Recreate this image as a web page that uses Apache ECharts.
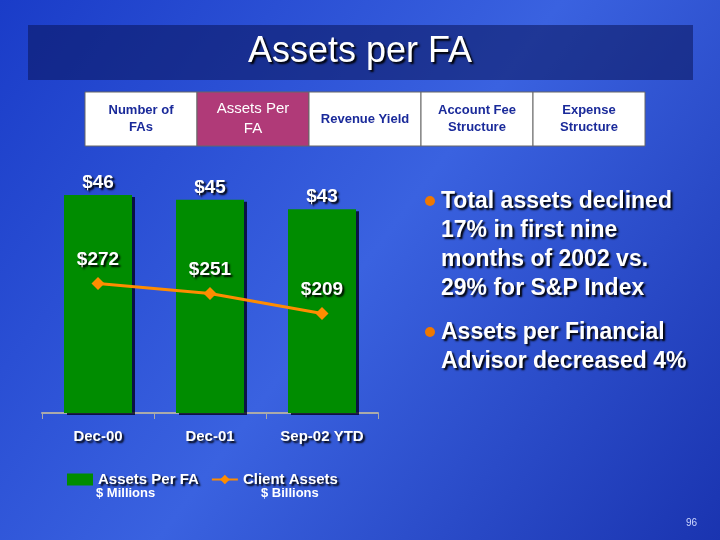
<!DOCTYPE html>
<html><head><meta charset="utf-8">
<script src="https://cdn.jsdelivr.net/npm/echarts@6/dist/echarts.min.js"></script>
<style>html,body{margin:0;padding:0;}#main{width:720px;height:540px;}</style>
</head><body><div id="main"></div>
<script>
var categories = ['Dec-00', 'Dec-01', 'Sep-02 YTD'];
var assetsPerFA = [46, 45, 43];
var clientAssets = [272, 251, 209];
var tabs = ['Number of\nFAs', 'Assets Per\nFA', 'Revenue Yield', 'Account Fee\nStructure', 'Expense\nStructure'];
var bullets = ['Total assets declined\n17% in first nine\nmonths of 2002 vs.\n29% for S&P Index', 'Assets per Financial\nAdvisor decreased 4%'];

var FF = 'Liberation Sans';
var chart = echarts.init(document.getElementById('main'));
var shadow = { textShadowColor: '#000', textShadowBlur: 2, textShadowOffsetX: 2, textShadowOffsetY: 2 };
var graphics = [
  { type: 'rect', shape: { x: 28, y: 25, width: 665, height: 55 }, style: { fill: 'rgba(10,20,90,0.55)' } },
  { type: 'text', x: 360, y: 52, style: Object.assign({ text: 'Assets per FA', fill: '#fff', font: '36px ' + FF, textAlign: 'center', textVerticalAlign: 'middle' }, shadow) }
];
tabs.forEach(function (t, i) {
  var x = 85 + i * 112, sel = i === 1;
  graphics.push({ type: 'rect', shape: { x: x, y: 92, width: 112, height: 54 }, style: { fill: sel ? '#b03a78' : '#fff', stroke: '#666', lineWidth: 1 } });
  graphics.push({ type: 'text', x: x + 56, y: 119, style: { text: t, fill: sel ? '#fff' : '#1a2a9a', font: (sel ? '15px ' : 'bold 13px ') + FF, textAlign: 'center', textVerticalAlign: 'middle', lineHeight: sel ? 20 : 17 } });
});
var by = 201;
bullets.forEach(function (b, i) {
  graphics.push({ type: 'circle', shape: { cx: 430, cy: by, r: 5 }, style: { fill: '#f07800' } });
  graphics.push({ type: 'text', x: 441, y: by - 14, style: Object.assign({ text: b, fill: '#fff', font: 'bold 23px ' + FF, lineHeight: 29 }, shadow) });
  by += b.split('\n').length * 29 + 15;
});
graphics.push({ type: 'text', x: 96, y: 487, style: { text: '$ Millions', fill: '#fff', font: 'bold 13px ' + FF } });
graphics.push({ type: 'text', x: 261, y: 487, style: { text: '$ Billions', fill: '#fff', font: 'bold 13px ' + FF } });
graphics.push({ type: 'text', x: 686, y: 518, style: { text: '96', fill: '#cfd8ff', font: '10px ' + FF } });

chart.setOption({
  backgroundColor: new echarts.graphic.LinearGradient(0, 0, 1, 1, [
    { offset: 0, color: '#1a3cc8' }, { offset: 0.5, color: '#3a62e0' }, { offset: 1, color: '#1a34b0' }]),
  graphic: graphics,
  legend: {
    left: 62, top: 467, itemGap: 12, itemWidth: 26, itemHeight: 12,
    textStyle: Object.assign({ color: '#fff', fontSize: 15, fontWeight: 'bold', fontFamily: FF }, shadow),
    data: [{ name: 'Assets Per FA', icon: 'rect' }, { name: 'Client Assets' }]
  },
  grid: { left: 42, right: 342, top: 170, bottom: 127 },
  xAxis: {
    type: 'category', data: categories,
    axisLine: { lineStyle: { color: '#aaa', width: 2 } },
    axisTick: { show: true, length: 6, lineStyle: { color: '#aaa' } },
    axisLabel: Object.assign({ color: '#fff', fontSize: 15, fontWeight: 'bold', fontFamily: FF, margin: 16 }, shadow)
  },
  yAxis: [
    { type: 'value', min: 0, max: 51.3, show: false, splitLine: { show: false } },
    { type: 'value', min: 0, max: 510, show: false, splitLine: { show: false } }
  ],
  series: [
    {
      name: 'Assets Per FA', type: 'bar', data: assetsPerFA, barWidth: 68,
      itemStyle: { color: '#008c00', shadowColor: 'rgba(0,0,30,0.8)', shadowOffsetX: 3, shadowOffsetY: 2 },
      label: Object.assign({ show: true, position: 'top', formatter: '${c}', color: '#fff', fontSize: 19, fontWeight: 'bold', fontFamily: FF, distance: 3 }, shadow)
    },
    {
      name: 'Client Assets', type: 'line', yAxisIndex: 1, data: clientAssets,
      symbol: 'diamond', symbolSize: 13,
      lineStyle: { color: '#ff8c00', width: 3 }, itemStyle: { color: '#ff8c00' },
      label: Object.assign({ show: true, position: 'top', formatter: '${c}', color: '#fff', fontSize: 19, fontWeight: 'bold', fontFamily: FF, distance: 8 }, shadow)
    }
  ]
});
</script></body></html>
